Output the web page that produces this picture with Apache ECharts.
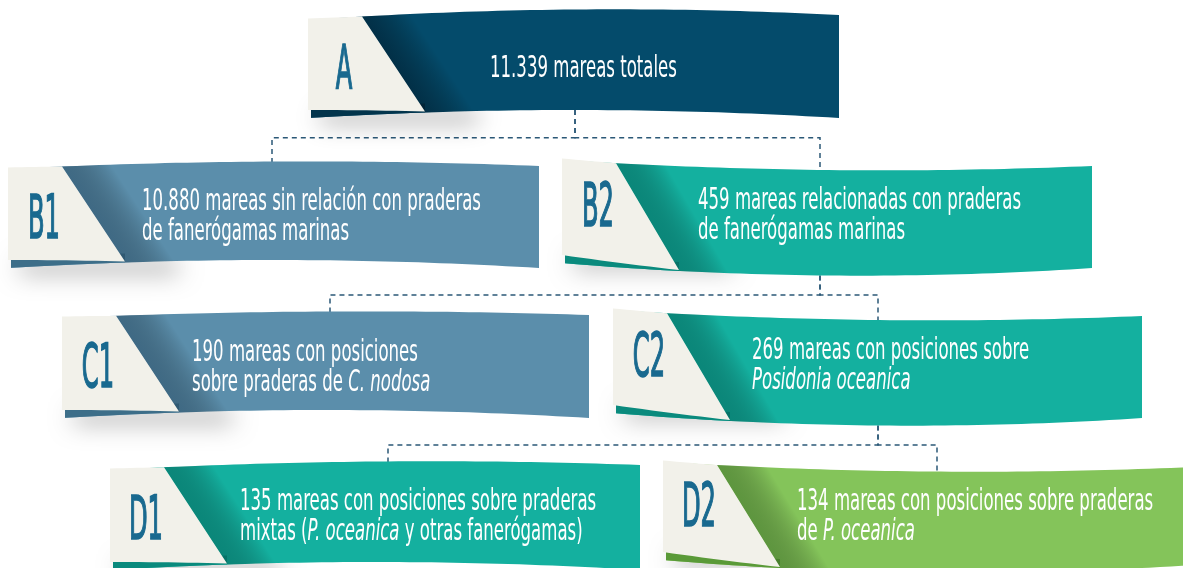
<!DOCTYPE html>
<html>
<head>
<meta charset="utf-8">
<style>
html,body{margin:0;padding:0;background:#ffffff;}
#chart{width:1183px;height:568px;}
</style>
<script src="https://cdn.jsdelivr.net/npm/echarts@6/dist/echarts.min.js"></script>
</head>
<body>
<div id="chart"></div>
<script>
// ---------- DATA ----------
const nodeIds = ['A', 'B1', 'B2', 'C1', 'C2', 'D1', 'D2'];
const mareas = [11339, 10880, 459, 190, 269, 135, 134];
const descriptions = [
  'mareas totales',
  'mareas sin relación con praderas\nde fanerógamas marinas',
  'mareas relacionadas con praderas\nde fanerógamas marinas',
  'mareas con posiciones\nsobre praderas de {i|C. nodosa}',
  'mareas con posiciones sobre\n{i|Posidonia oceanica}',
  'mareas con posiciones sobre praderas\nmixtas ({i|P. oceanica} y otras fanerógamas)',
  'mareas con posiciones sobre praderas\nde {i|P. oceanica}'
];
const parentIndex = [-1, 0, 0, 2, 2, 4, 4];

// ---------- LAYOUT (positions / sizes) ----------
const ribbonLeft   = [308, 8, 562, 62, 613, 110, 663];
const ribbonWidth  = [531, 531, 530, 527, 529, 530, 530];
const topLeft      = [20, 169, 160, 318, 310, 470, 462];
const topRise      = [-5, -3, 6, -3, 6, -5, 5];
const topBow       = [8, 6, -7, 5, -7, 6, -7];
const bottomLeft   = [118, 268, 263, 418, 413, 570, 560];
const bottomRise   = [0, 0, 5, 0, 5, 0, 5];
const bottomBow    = [8, 8, -10, 8, -10, 8, -10];
const textDx       = [182, 134, 136, 130, 139, 130, 134];
const textDy       = [49, 48, 56, 50, 56, 47, 55];
const connectorX   = [575, 272, 820, 330, 878, 388, 937];
const creamTopW = 54, creamBotW = 117;

// ---------- STYLES ----------
const ribbonColor = ['#044b6b', '#5b8eab', '#14b09f', '#5b8eab', '#14b09f', '#14b09f', '#84c45a'];
const stripColor  = ['#02344c', '#3d6e89', '#0a8a7d', '#3d6e89', '#0a8a7d', '#0a8a7d', '#5a9a38'];
const foldColor   = ['rgba(0,20,35,0.5)', 'rgba(35,70,95,0.5)', 'rgba(0,95,85,0.5)', 'rgba(35,70,95,0.5)',
                     'rgba(0,95,85,0.5)', 'rgba(0,95,85,0.5)', 'rgba(55,105,35,0.5)'];
const creamColor = '#f2f1ea';
const labelColor = '#19698f';
const lineColor = '#2b5877';
const FF = '"Liberation Sans Narrow", "DejaVu Sans Condensed", "Roboto", sans-serif';
const TEXT_SIZE = 28, LABEL_SIZE = 60, TEXT_SY = 1.08;

function fmt(n) { return String(n).replace(/\B(?=(\d{3})+(?!\d))/g, '.'); }

const mctx = document.createElement('canvas').getContext('2d');
function measure(str, size, weight) { mctx.font = (weight || 'normal') + ' ' + size + 'px ' + FF; return mctx.measureText(str).width; }
const textScale = Math.min(1, 339 / measure(fmt(mareas[1]) + ' ' + descriptions[1].split('\n')[0], TEXT_SIZE));
const labelScale = Math.min(1, 32 / measure(nodeIds[1], LABEL_SIZE));

function edgeY(y0, rise, bow, t) {
  const p1 = y0 - bow * 4 / 3 + rise / 3, p2 = y0 - bow * 4 / 3 + rise * 2 / 3, p3 = y0 + rise;
  const u = 1 - t;
  return u * u * u * y0 + 3 * u * u * t * p1 + 3 * u * t * t * p2 + t * t * t * p3;
}
function topAt(i, x) { return edgeY(topLeft[i], topRise[i], topBow[i], (x - ribbonLeft[i]) / ribbonWidth[i]); }
function botAt(i, x) { return edgeY(bottomLeft[i], bottomRise[i], bottomBow[i], (x - ribbonLeft[i]) / ribbonWidth[i]); }

function renderBanner(params, api) {
  const i = params.dataIndex;
  const x0 = ribbonLeft[i], x1 = x0 + ribbonWidth[i];
  const P = (x, y) => api.coord([x, y]);
  const N = 48;
  const children = [];

  // soft shadow under left end (shape hidden behind the ribbon, only its blur shows)
  const sa = P(x0 + 12, botAt(i, x0) - 26), sb = P(x0 + 170, botAt(i, x0) - 16);
  children.push({ type: 'rect', shape: { x: sa[0], y: sa[1], width: sb[0] - sa[0], height: sb[1] - sa[1] },
    style: { fill: '#8a8a8a', shadowBlur: 24, shadowOffsetY: 20, shadowColor: 'rgba(0,0,0,0.42)' } });

  // ribbon
  const rib = [];
  for (let k = 0; k <= N; k++) { const x = x0 + 3 + (x1 - x0 - 3) * k / N; rib.push(P(x, topAt(i, x))); }
  for (let k = N; k >= 0; k--) { const x = x0 + 3 + (x1 - x0 - 3) * k / N; rib.push(P(x, botAt(i, x))); }
  children.push({ type: 'polygon', shape: { points: rib }, style: { fill: ribbonColor[i] } });

  // dark strip under cream panel
  const st = [];
  for (let k = 0; k <= 12; k++) { const x = x0 + 3 + (creamBotW - 3) * k / 12; st.push(P(x, botAt(i, x) - 9)); }
  for (let k = 12; k >= 0; k--) { const x = x0 + 3 + (creamBotW - 3) * k / 12; st.push(P(x, botAt(i, x))); }
  children.push({ type: 'polygon', shape: { points: st }, style: { fill: stripColor[i] } });

  // fold shading along the diagonal
  const xa = x0 + creamTopW, ya = topAt(i, xa), xb = x0 + creamBotW, yb = botAt(i, xb);
  const fold = [P(xa, ya), P(xa + 55, topAt(i, xa + 55)), P(xb + 55, botAt(i, xb + 55)), P(xb, yb)];
  const dx = xb - xa, dy = yb - ya, len = Math.hypot(dx, dy);
  const nx = dy / len, ny = -dx / len;
  const m = P((xa + xb) / 2, (ya + yb) / 2), m2 = P((xa + xb) / 2 + nx * 42, (ya + yb) / 2 + ny * 42);
  children.push({ type: 'polygon', shape: { points: fold }, style: { fill: {
    type: 'linear', x: m[0], y: m[1], x2: m2[0], y2: m2[1], global: true,
    colorStops: [{ offset: 0, color: foldColor[i] }, { offset: 1, color: 'rgba(0,0,0,0)' }] } } });

  // cream panel
  const cr = [];
  for (let k = 0; k <= 8; k++) { const x = x0 + creamTopW * k / 8; cr.push(P(x, topAt(i, x) - 1.5 * (1 - k / 8))); }
  for (let k = 12; k >= 0; k--) { const s = k / 12; const x = x0 + creamBotW * s; cr.push(P(x, botAt(i, x) - 7 * (1 - s) - 1)); }
  children.push({ type: 'polygon', shape: { points: cr }, style: { fill: creamColor } });

  // id label
  const lc = P(x0 + 36, (topLeft[i] + bottomLeft[i]) / 2 + (topBow[i] > 0 ? 3.5 : -1));
  children.push({ type: 'text', x: lc[0], y: lc[1], scaleX: labelScale, scaleY: 1,
    style: { text: nodeIds[i], x: 0, y: 0, fill: labelColor, stroke: labelColor, lineWidth: 1.6,
      fontSize: LABEL_SIZE, fontFamily: FF, align: 'center', verticalAlign: 'middle' } });

  // description
  const tp = P(x0 + textDx[i], topLeft[i] + textDy[i]);
  const base = { fill: '#ffffff', fontSize: TEXT_SIZE, fontFamily: FF, lineHeight: 30 / TEXT_SY };
  children.push({ type: 'text', x: tp[0], y: tp[1], scaleX: textScale, scaleY: TEXT_SY,
    style: Object.assign({ text: fmt(mareas[i]) + ' ' + descriptions[i], x: 0, y: 0,
      align: 'left', verticalAlign: 'middle',
      rich: { i: Object.assign({ fontStyle: 'italic' }, base) } }, base) });

  return { type: 'group', children: children };
}

function renderConnector(params, api) {
  const i = params.dataIndex + 1;
  const p = parentIndex[i];
  const P = (x, y) => api.coord([x, y]);
  const px = connectorX[p], py = botAt(p, px);
  const sibs = parentIndex.map((q, k) => q === p ? k : -1).filter(k => k >= 0);
  const minTop = Math.min.apply(null, sibs.map(k => topAt(k, connectorX[k])));
  const bus = py + (minTop - py) * 0.54;
  const cx = connectorX[i], cy = topAt(i, cx) + 6;
  return { type: 'polyline', shape: { points: [P(px, py), P(px, bus), P(cx, bus), P(cx, cy)] },
    style: { stroke: lineColor, lineWidth: 1.5, lineDash: [5, 4], fill: null } };
}

const chart = echarts.init(document.getElementById('chart'), null, { renderer: 'canvas' });
chart.setOption({
  backgroundColor: '#ffffff',
  animation: false,
  grid: { left: 0, right: 0, top: 0, bottom: 0 },
  xAxis: { type: 'value', min: 0, max: 1183, show: false },
  yAxis: { type: 'value', min: 0, max: 568, inverse: true, show: false },
  series: [
    { type: 'custom', name: 'conectores', coordinateSystem: 'cartesian2d', z: 1, silent: true,
      renderItem: renderConnector,
      data: parentIndex.slice(1).map((p, k) => [connectorX[k + 1], topLeft[k + 1]]) },
    { type: 'custom', name: 'mareas', coordinateSystem: 'cartesian2d', z: 2, silent: true,
      renderItem: renderBanner,
      data: nodeIds.map((id, i) => [ribbonLeft[i], topLeft[i]]) }
  ]
});
</script>
</body>
</html>
